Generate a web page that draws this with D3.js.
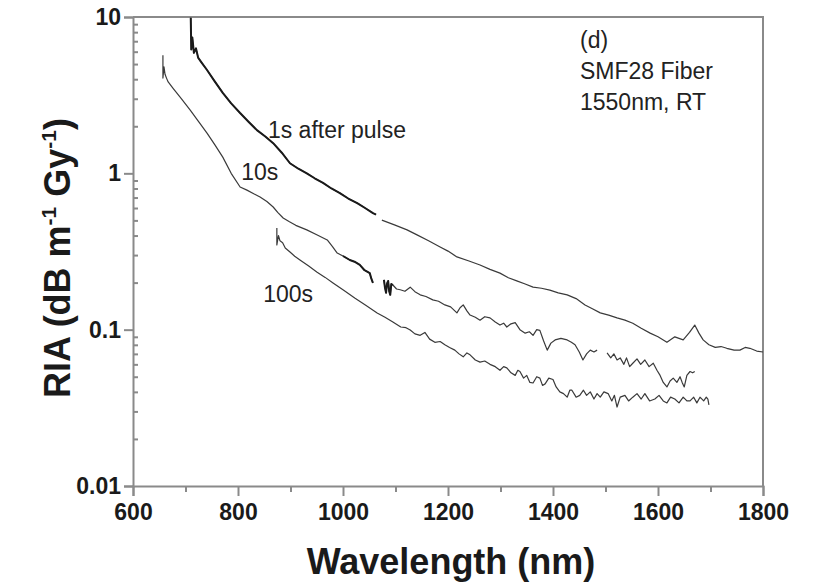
<!DOCTYPE html>
<html>
<head>
<meta charset="utf-8">
<script src="https://cdn.jsdelivr.net/npm/d3@7"></script>
<style>
  body { margin: 0; background: #fff; }
  svg { display: block; font-family: Arial, "Liberation Sans", sans-serif; }
</style>
</head>
<body>
<div id="chart"></div>
<script>
// RIA spectra, SMF28 fiber – wavelength (nm) / RIA (dB m-1 Gy-1), null = gap
var ria1s = [
  [710, 9.9], [711, 6.2], [713, 7.4], [716, 5.9], [720, 6.3], [724, 5.5], [730, 5.15],
  [741, 4.58], [755, 3.9], [771, 3.27], [787, 2.8], [804, 2.43], [820, 2.14], [836, 1.89],
  [852, 1.72], [867, 1.56], [883, 1.36], [899, 1.16], [915, 1.07], [931, 1.0], [946, 0.93],
  [962, 0.868], [978, 0.80], [994, 0.748], [1010, 0.69], [1027, 0.645], [1042, 0.60],
  [1057, 0.557], [1063, 0.545], [1068, null], [1074, 0.502], [1098, 0.468], [1122, 0.435],
  [1141, 0.404], [1163, 0.37], [1185, 0.338], [1200, 0.318], [1217, 0.292], [1240, 0.275],
  [1261, 0.259], [1280, 0.243], [1299, 0.230], [1315, 0.215], [1331, 0.205], [1347, 0.196],
  [1362, 0.187], [1378, 0.184], [1394, 0.179], [1410, 0.172], [1427, 0.167], [1444, 0.158],
  [1461, 0.144], [1475, 0.136], [1490, 0.128], [1506, 0.124], [1522, 0.119], [1537, 0.115],
  [1552, 0.110], [1568, 0.102], [1585, 0.095], [1600, 0.090], [1617, 0.083], [1632, 0.090],
  [1648, 0.086], [1660, 0.096], [1670, 0.107], [1678, 0.095], [1686, 0.086], [1697, 0.080],
  [1709, 0.077], [1720, 0.078], [1731, 0.076], [1745, 0.074], [1756, 0.074], [1766, 0.077],
  [1775, 0.076], [1788, 0.073], [1800, 0.072]
];

var ria10s = [
  [657, 5.7], [657, 4.07], [659, 4.8], [661, 4.3], [664, 4.05], [667, 3.84], [676, 3.51],
  [692, 3.0], [709, 2.54], [725, 2.14], [741, 1.81], [756, 1.52], [771, 1.27], [787, 1.0],
  [804, 0.818], [817, 0.781], [830, 0.74], [842, 0.706], [855, 0.66], [867, 0.609],
  [876, 0.56], [886, 0.518], [898, 0.49], [910, 0.465], [931, 0.435], [950, 0.405],
  [970, 0.375], [980, 0.34], [989, 0.309], [1000, 0.296], [1013, 0.279], [1022, 0.272],
  [1032, 0.260], [1041, 0.24], [1051, 0.230], [1054, 0.212], [1057, 0.199], [1068, null],
  [1078, 0.208], [1080, 0.185], [1082, 0.172], [1084, 0.198], [1086, 0.205], [1088, 0.176],
  [1090, 0.167], [1092, 0.196], [1095, 0.193], [1102, 0.182], [1109, 0.180], [1118, 0.176],
  [1128, 0.187], [1137, 0.175], [1147, 0.167], [1158, 0.163], [1171, 0.155], [1182, 0.152],
  [1194, 0.144], [1205, 0.140], [1217, 0.128], [1223, 0.138], [1229, 0.144], [1236, 0.132],
  [1242, 0.124], [1252, 0.120], [1261, 0.115], [1270, 0.121], [1280, 0.119], [1290, 0.112],
  [1299, 0.107], [1306, 0.110], [1312, 0.104], [1320, 0.109], [1328, 0.111], [1337, 0.100],
  [1347, 0.095], [1355, 0.097], [1362, 0.092], [1369, 0.100], [1375, 0.099], [1382, 0.085],
  [1389, 0.074], [1396, 0.082], [1404, 0.086], [1415, 0.088], [1427, 0.086], [1435, 0.083],
  [1442, 0.080], [1450, 0.072], [1457, 0.064], [1464, 0.070], [1471, 0.074], [1478, 0.072],
  [1484, 0.074], [1494, null], [1503, 0.071], [1510, 0.066], [1516, 0.070], [1522, 0.064],
  [1528, 0.066], [1535, 0.060], [1540, 0.066], [1546, 0.058], [1552, 0.061], [1560, 0.065],
  [1567, 0.060], [1575, 0.064], [1583, 0.058], [1591, 0.061], [1598, 0.055], [1604, 0.051],
  [1610, 0.046], [1617, 0.043], [1623, 0.047], [1629, 0.049], [1636, 0.046], [1642, 0.050],
  [1646, 0.046], [1650, 0.043], [1655, 0.051], [1661, 0.054], [1666, 0.053], [1670, 0.054]
];

var ria100s = [
  [874, 0.447], [874, 0.348], [877, 0.40], [880, 0.37], [885, 0.36], [890, 0.333],
  [899, 0.314], [908, 0.295], [918, 0.279], [934, 0.256], [950, 0.234], [966, 0.216],
  [981, 0.199], [1002, 0.178], [1023, 0.159], [1044, 0.143], [1065, 0.128], [1080, 0.120],
  [1095, 0.112], [1110, 0.104], [1120, 0.103], [1128, 0.0996], [1137, 0.094], [1147, 0.092],
  [1156, 0.096], [1165, 0.087], [1175, 0.083], [1185, 0.084], [1194, 0.080], [1203, 0.077],
  [1213, 0.074], [1221, 0.070], [1229, 0.067], [1236, 0.071], [1242, 0.069], [1252, 0.064],
  [1261, 0.062], [1270, 0.063], [1280, 0.060], [1290, 0.058], [1299, 0.055], [1306, 0.058],
  [1312, 0.057], [1320, 0.053], [1328, 0.051], [1333, 0.055], [1337, 0.054], [1344, 0.049],
  [1350, 0.051], [1356, 0.046], [1362, 0.0456], [1369, 0.050], [1375, 0.049], [1380, 0.044],
  [1385, 0.045], [1392, 0.049], [1400, 0.048], [1406, 0.043], [1413, 0.040], [1420, 0.039],
  [1427, 0.037], [1432, 0.041], [1436, 0.041], [1444, 0.037], [1451, 0.038], [1458, 0.041],
  [1464, 0.038], [1471, 0.040], [1478, 0.036], [1484, 0.039], [1490, 0.037], [1497, 0.040],
  [1505, 0.039], [1512, 0.035], [1517, 0.038], [1522, 0.032], [1528, 0.037], [1537, 0.038],
  [1544, 0.035], [1552, 0.037], [1560, 0.039], [1568, 0.036], [1575, 0.039], [1584, 0.035],
  [1594, 0.036], [1602, 0.038], [1610, 0.035], [1617, 0.034], [1624, 0.037], [1632, 0.036],
  [1640, 0.034], [1648, 0.037], [1655, 0.035], [1661, 0.035], [1668, 0.037], [1674, 0.034],
  [1680, 0.037], [1687, 0.035], [1692, 0.037], [1695, 0.036], [1697, 0.033]
];

// wavelength ranges drawn heavier (noisier, denser early data)
var heavyRanges = [[0, 1065], [1000, 1096], [0, 0]];

var xTicks = [600, 800, 1000, 1200, 1400, 1600, 1800];
var xMinor = [700, 900, 1100, 1300, 1500, 1700];
var yTicks = [0.01, 0.1, 1, 10];
var yTickLabels = ["0.01", "0.1", "1", "10"];
var curveLabels = [
  {text: "1s after pulse", wl: 857, v: 1.68},
  {text: "10s", wl: 806, v: 0.906},
  {text: "100s", wl: 848, v: 0.150}
];
var noteLines = ["(d)", "SMF28 Fiber", "1550nm, RT"];

var W = 820, H = 587;
var margin = {left: 133, right: 57, top: 17, bottom: 101};

var svg = d3.select("#chart").append("svg")
    .attr("width", W).attr("height", H);

var x = d3.scaleLinear().domain([600, 1800]).range([margin.left, W - margin.right]);
var y = d3.scaleLog().domain([0.01, 10]).range([H - margin.bottom, margin.top]);

var axisColor = "#8a8a8a";

// minor y ticks (2..9 per decade), pointing inwards
var yMinor = [];
yTicks.slice(0, 3).forEach(function(d) {
  [2, 3, 4, 5, 6, 7, 8, 9].forEach(function(k) { yMinor.push(d * k); });
});

svg.append("g")
    .attr("transform", "translate(" + margin.left + ",0)")
    .call(d3.axisLeft(y).tickValues(yTicks)
      .tickFormat(function(d, i) { return yTickLabels[i]; })
      .tickSize(9).tickPadding(3));

svg.append("g")
    .attr("transform", "translate(" + margin.left + ",0)")
    .call(d3.axisRight(y).tickValues(yMinor).tickFormat("").tickSize(5))
    .select(".domain").remove();

svg.append("g")
    .attr("transform", "translate(0," + (H - margin.bottom) + ")")
    .call(d3.axisBottom(x).tickValues(xTicks).tickFormat(d3.format("d"))
      .tickSize(10).tickPadding(8));

svg.append("g")
    .attr("transform", "translate(0," + (H - margin.bottom) + ")")
    .call(d3.axisBottom(x).tickValues(xMinor).tickFormat("").tickSize(6))
    .select(".domain").remove();

svg.selectAll(".domain, .tick line")
    .attr("stroke", axisColor)
    .attr("stroke-width", 2);

svg.selectAll(".tick text")
    .attr("fill", "#1a1a1a")
    .style("font-size", "23px")
    .style("font-weight", "bold");

// frame: top & right
svg.append("path")
    .attr("d", "M" + margin.left + "," + margin.top +
               "H" + (W - margin.right) + "V" + (H - margin.bottom))
    .attr("fill", "none")
    .attr("stroke", axisColor)
    .attr("stroke-width", 2);

var line = d3.line()
    .defined(function(d) { return d[1] !== null; })
    .x(function(d) { return x(d[0]); })
    .y(function(d) { return y(d[1]); });

var plot = svg.append("g");
[ria1s, ria10s, ria100s].forEach(function(s, i) {
  plot.append("path")
      .datum(s)
      .attr("d", line)
      .attr("fill", "none")
      .attr("stroke", "#3a3a3a")
      .attr("stroke-width", 1.2)
      .attr("stroke-linejoin", "round");

  var r = heavyRanges[i];
  plot.append("path")
      .datum(s.filter(function(d) { return d[0] >= r[0] && d[0] <= r[1]; }))
      .attr("d", line)
      .attr("fill", "none")
      .attr("stroke", "#1a1a1a")
      .attr("stroke-width", 2)
      .attr("stroke-linejoin", "round");
});

plot.selectAll("text.clabel")
    .data(curveLabels)
  .enter().append("text")
    .attr("class", "clabel")
    .attr("x", function(d) { return x(d.wl); })
    .attr("y", function(d) { return y(d.v); })
    .attr("fill", "#222")
    .style("font-size", "23px")
    .text(function(d) { return d.text; });

svg.selectAll("text.note")
    .data(noteLines)
  .enter().append("text")
    .attr("class", "note")
    .attr("x", 580)
    .attr("y", function(d, i) { return 48 + 31 * i; })
    .attr("fill", "#222")
    .style("font-size", "23px")
    .text(function(d) { return d; });

// axis titles
svg.append("text")
    .attr("x", (margin.left + W - margin.right) / 2 + 3)
    .attr("y", 574)
    .attr("text-anchor", "middle")
    .attr("fill", "#1a1a1a")
    .style("font-size", "36px")
    .style("font-weight", "bold")
    .text("Wavelength (nm)");

var yt = svg.append("text")
    .attr("transform", "translate(70,258) rotate(-90)")
    .attr("text-anchor", "middle")
    .attr("fill", "#1a1a1a")
    .style("font-size", "36px")
    .style("font-weight", "bold");
yt.append("tspan").text("RIA (dB m");
yt.append("tspan").attr("dy", -14).style("font-size", "21px").text("-1");
yt.append("tspan").attr("dy", 14).text(" Gy");
yt.append("tspan").attr("dy", -14).style("font-size", "21px").text("-1");
yt.append("tspan").attr("dy", 14).text(")");
</script>
</body>
</html>
